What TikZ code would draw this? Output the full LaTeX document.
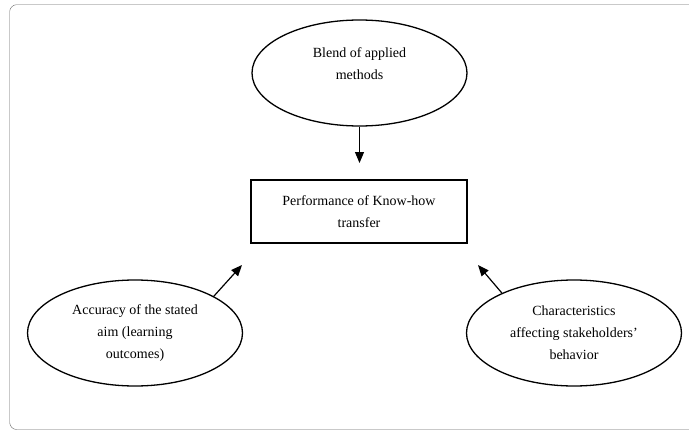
\documentclass[tikz,border=0pt]{standalone}
\usepackage{fontspec}
\setmainfont{Liberation Serif}
\usetikzlibrary{shapes.geometric,arrows.meta}
\begin{document}
\begin{tikzpicture}[x=1pt,y=-1pt,
        factor/.style={draw,ellipse,line width=1.3pt,minimum width=215pt,minimum height=106pt,inner sep=0pt,align=center,font=\fontsize{14}{22}\selectfont},
        target/.style={draw,rectangle,line width=1.3pt,minimum width=216pt,minimum height=63pt,inner sep=0pt,align=center,font=\fontsize{14}{22}\selectfont},
        label text/.style={align=center,inner sep=0pt,font=\fontsize{14}{22}\selectfont},
        link/.style={line width=1.2pt,-{Triangle[length=11pt,width=9pt]}}]
            \useasboundingbox (0,0) rectangle (689,431);
            \draw[black!60,rounded corners=7pt] (692,4.7) -- (9.7,4.7) -- (9.7,429.5) -- (692,429.5);
            \node[factor] (blend) at (359.5,73) {};
            \node[label text] (blendtext) at ([yshift=9pt]blend.center) {Blend of applied\\methods};
            \node[target] (perf) at (359,211.5) {Performance of Know-how\\transfer};
            \node[factor] (acc) at (135,333) {Accuracy of the stated\\aim (learning\\outcomes)};
            \node[factor] (char) at (574,333) {Characteristics\\affecting stakeholders'\\behavior};
            \coordinate (blendend) at (359.5,163);
            \coordinate (accend) at (242,265);
            \coordinate (charend) at (478,265);
            \draw[link] (blend.south) -- (blendend);
            \draw[link] (acc.25) -- (accend);
            \draw[link] (char.151) -- (charend);
        \end{tikzpicture}
\end{document}
